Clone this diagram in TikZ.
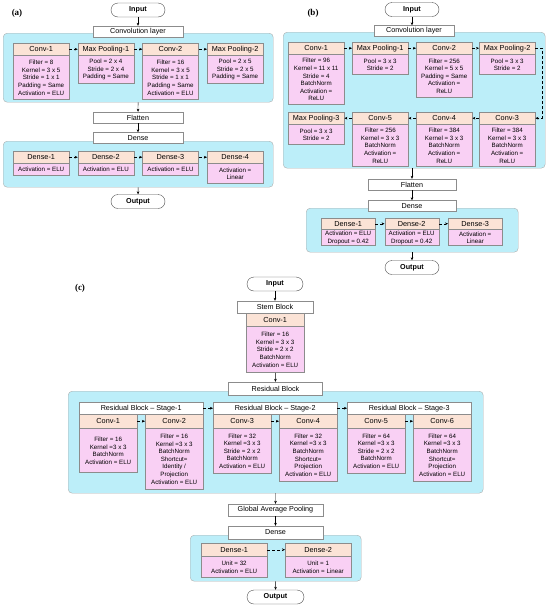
\documentclass[tikz,border=0pt]{standalone}
\usepackage{fontspec}
\setmainfont{Liberation Sans}
\newfontfamily\panelfont{Liberation Serif}
\usetikzlibrary{arrows.meta}
\definecolor{panelblue}{HTML}{BCEEF9}
\definecolor{headpeach}{HTML}{FBE3D6}
\definecolor{bodypink}{HTML}{F9D0F4}
\definecolor{edgegray}{HTML}{8C8C8C}

\begin{document}
\begin{tikzpicture}[x=1pt, y=-1pt,
  pillbox/.style={draw=black!70, fill=white, rounded corners=7pt, minimum width=54pt, minimum height=14pt, inner sep=0pt, font=\fontsize{7.2}{8}\selectfont\bfseries},
  layerbox/.style={draw=edgegray, fill=white, minimum height=11pt, inner sep=0pt, font=\fontsize{7.2}{8}\selectfont},
  stagebox/.style={layerbox, anchor=north west, minimum width=124pt, minimum height=12pt},
  panelbox/.style={draw=edgegray!70, fill=panelblue, rounded corners=4pt, anchor=north west, inner sep=0pt},
  headbox/.style={draw=edgegray, fill=headpeach, anchor=north west, minimum width=56pt, minimum height=12pt, inner sep=0pt, font=\fontsize{7.3}{8}\selectfont},
  bodybox/.style={draw=edgegray, fill=bodypink, anchor=north, minimum width=56pt, align=center, inner sep=1pt, font=\fontsize{6.2}{7.6}\selectfont},
  tag/.style={font=\panelfont\bfseries\fontsize{9}{10}\selectfont},
  arr/.style={-{Stealth[length=3pt,width=2.6pt]}, black, line width=0.4pt},
  darr/.style={arr, densely dashed}
]
\useasboundingbox (0,0) rectangle (550,606);

% (a)
\node[tag] (lba) at (17,13) {(a)};
\node[pillbox] (ain) at (138,10) {Input};
\node[panelbox, minimum width=270pt, minimum height=69pt] (apa) at (3,33) {};
\node[layerbox, minimum width=90pt] (acl) at (138,31.5) {Convolution layer};
\draw[arr] (ain) -- (acl);
\node[headbox] (ac1) at (13,43) {Conv-1};
\node[headbox] (am1) at (77.7,43) {Max Pooling-1};
\node[headbox] (ac2) at (142.3,43) {Conv-2};
\node[headbox] (am2) at (207,43) {Max Pooling-2};
\node[bodybox, minimum height=44pt] (ac1b) at (ac1.south) {Filter = 8\\Kernel = 3 x 5\\Stride = 1 x 1\\Padding = Same\\Activation = ELU};
\node[bodybox, minimum height=28pt] (am1b) at (am1.south) {Pool = 2 x 4\\Stride = 2 x 4\\Padding = Same};
\node[bodybox, minimum height=44pt] (ac2b) at (ac2.south) {Filter = 16\\Kernel = 3 x 5\\Stride = 1 x 1\\Padding = Same\\Activation = ELU};
\node[bodybox, minimum height=28pt] (am2b) at (am2.south) {Pool = 2 x 5\\Stride = 2 x 5\\Padding = Same};
\foreach \s/\t in {ac1/am1,am1/ac2,ac2/am2} {\draw[darr] (\s) -- (\t);}
\node[layerbox, minimum width=90pt] (afl) at (138,117.5) {Flatten};
\draw[arr] (apa) -- (afl);
\node[panelbox, minimum width=270pt, minimum height=46pt] (apb) at (3,141) {};
\node[layerbox, minimum width=90pt] (ade) at (138,138) {Dense};
\draw[arr] (afl) -- (ade);
\node[headbox] (ad1) at (13,151) {Dense-1};
\node[headbox] (ad2) at (77.7,151) {Dense-2};
\node[headbox] (ad3) at (142.3,151) {Dense-3};
\node[headbox] (ad4) at (207,151) {Dense-4};
\foreach \a in {ad1,ad2,ad3} {\node[bodybox, minimum height=12pt] (\a b) at (\a.south) {Activation = ELU};}
\node[bodybox, minimum height=20pt] (ad4b) at (ad4.south) {Activation =\\Linear};
\foreach \s/\t in {ad1/ad2,ad2/ad3,ad3/ad4} {\draw[darr] (\s) -- (\t);}
\node[pillbox] (aout) at (138,201.5) {Output};
\draw[arr] (apb) -- (aout);

% (b)
\node[tag] (lbb) at (313,13) {(b)};
\node[pillbox] (bin) at (412,9.5) {Input};
\node[panelbox, minimum width=262pt, minimum height=136pt] (bpa) at (283,32) {};
\node[layerbox, minimum width=80pt] (bcl) at (414,31) {Convolution layer};
\draw[arr] (bin) -- (bin |- bcl.north);
\node[headbox] (bc1) at (288,42) {Conv-1};
\node[headbox] (bm1) at (352,42) {Max Pooling-1};
\node[headbox] (bc2) at (416,42) {Conv-2};
\node[headbox] (bm2) at (479,42) {Max Pooling-2};
\node[bodybox, minimum height=50pt] (bc1b) at (bc1.south) {Filter = 96\\Kernel = 11 x 11\\Stride = 4\\BatchNorm\\Activation =\\ReLU};
\node[bodybox, minimum height=20pt] (bm1b) at (bm1.south) {Pool = 3 x 3\\Stride = 2};
\node[bodybox, minimum height=43pt] (bc2b) at (bc2.south) {Filter = 256\\Kernel = 5 x 5\\Padding = Same\\Activation =\\ReLU};
\node[bodybox, minimum height=20pt] (bm2b) at (bm2.south) {Pool = 3 x 3\\Stride = 2};
\node[headbox] (bm3) at (288,112) {Max Pooling-3};
\node[headbox] (bc5) at (352,112) {Conv-5};
\node[headbox] (bc4) at (416,112) {Conv-4};
\node[headbox] (bc3) at (479,112) {Conv-3};
\node[bodybox, minimum height=20pt] (bm3b) at (bm3.south) {Pool = 3 x 3\\Stride = 2};
\node[bodybox, minimum height=42pt] (bc5b) at (bc5.south) {Filter = 256\\Kernel = 3 x 3\\BatchNorm\\Activation =\\ReLU};
\node[bodybox, minimum height=42pt] (bc4b) at (bc4.south) {Filter = 384\\Kernel = 3 x 3\\BatchNorm\\Activation =\\ReLU};
\node[bodybox, minimum height=42pt] (bc3b) at (bc3.south) {Filter = 384\\Kernel = 3 x 3\\BatchNorm\\Activation =\\ReLU};
\foreach \s/\t in {bc1/bm1,bm1/bc2,bc2/bm2,bc3/bc4,bc4/bc5,bc5/bm3} {\draw[darr] (\s) -- (\t);}
\draw[darr] (bm2.east) -- ++(7,0) |- (bc3.east);
\node[layerbox, minimum width=88pt] (bfl) at (412,184.5) {Flatten};
\draw[arr] (bfl |- bpa.south) -- (bfl);
\node[panelbox, minimum width=212pt, minimum height=44pt] (bpb) at (306,208) {};
\node[layerbox, minimum width=88pt] (bde) at (412,206) {Dense};
\draw[arr] (bfl) -- (bde);
\node[headbox, minimum width=54pt, minimum height=11pt] (bd1) at (321,218) {Dense-1};
\node[headbox, minimum width=54pt, minimum height=11pt] (bd2) at (384.5,218) {Dense-2};
\node[headbox, minimum width=54pt, minimum height=11pt] (bd3) at (448,218) {Dense-3};
\node[bodybox, minimum width=54pt, minimum height=16pt] (bd1b) at (bd1.south) {Activation = ELU\\Dropout = 0.42};
\node[bodybox, minimum width=54pt, minimum height=16pt] (bd2b) at (bd2.south) {Activation = ELU\\Dropout = 0.42};
\node[bodybox, minimum width=54pt, minimum height=16pt] (bd3b) at (bd3.south) {Activation =\\Linear};
\foreach \s/\t in {bd1/bd2,bd2/bd3} {\draw[darr] (\s) -- (\t);}
\node[pillbox] (bout) at (412,267.5) {Output};
\draw[arr] (bpb.south -| bout) -- (bout);

% (c)
\node[tag] (lbc) at (80,288) {(c)};
\node[pillbox, minimum width=56pt] (cin) at (275,284) {Input};
\node[layerbox, minimum width=76pt, minimum height=12pt] (csb) at (275,307) {Stem Block};
\draw[arr] (cin) -- (csb);
\node[headbox, minimum width=58pt, minimum height=13pt] (cs1) at (246,313) {Conv-1};
\node[bodybox, minimum width=58pt, minimum height=46pt] (cs1b) at (cs1.south) {Filter = 16\\Kernel = 3 x 3\\Stride = 2 x 2\\BatchNorm\\Activation = ELU};
\node[panelbox, minimum width=415pt, minimum height=102pt] (cpa) at (68,391) {};
\node[layerbox, minimum width=94pt, minimum height=13pt] (crb) at (275.5,388.5) {Residual Block};
\draw[arr] (cs1b) -- (crb);
\node[stagebox] (cst1) at (79,402) {Residual Block -- Stage-1};
\node[stagebox] (cst2) at (213,402) {Residual Block -- Stage-2};
\node[stagebox] (cst3) at (347,402) {Residual Block -- Stage-3};
\node[headbox, minimum width=58pt, minimum height=14pt] (cc1) at (79,414) {Conv-1};
\node[headbox, minimum width=58pt, minimum height=14pt] (cc2) at (145,414) {Conv-2};
\node[headbox, minimum width=58pt, minimum height=14pt] (cc3) at (213,414) {Conv-3};
\node[headbox, minimum width=58pt, minimum height=14pt] (cc4) at (279,414) {Conv-4};
\node[headbox, minimum width=58pt, minimum height=14pt] (cc5) at (347,414) {Conv-5};
\node[headbox, minimum width=58pt, minimum height=14pt] (cc6) at (413,414) {Conv-6};
\node[bodybox, minimum width=58pt, minimum height=44pt] (cc1b) at (cc1.south) {Filter = 16\\Kernel =3 x 3\\BatchNorm\\Activation = ELU};
\node[bodybox, minimum width=58pt, minimum height=61pt] (cc2b) at (cc2.south) {Filter = 16\\Kernel =3 x 3\\BatchNorm\\Shortcut=\\Identity /\\Projection\\Activation = ELU};
\node[bodybox, minimum width=58pt, minimum height=45pt] (cc3b) at (cc3.south) {Filter = 32\\Kernel =3 x 3\\Stride = 2 x 2\\BatchNorm\\Activation = ELU};
\node[bodybox, minimum width=58pt, minimum height=53pt] (cc4b) at (cc4.south) {Filter = 32\\Kernel =3 x 3\\BatchNorm\\Shortcut=\\Projection\\Activation = ELU};
\node[bodybox, minimum width=58pt, minimum height=45pt] (cc5b) at (cc5.south) {Filter = 64\\Kernel =3 x 3\\Stride = 2 x 2\\BatchNorm\\Activation = ELU};
\node[bodybox, minimum width=58pt, minimum height=53pt] (cc6b) at (cc6.south) {Filter = 64\\Kernel =3 x 3\\BatchNorm\\Shortcut=\\Projection\\Activation = ELU};
\foreach \s/\t in {cst1/cst2,cst2/cst3,cc1/cc2,cc3/cc4,cc5/cc6} {\draw[darr] (\s) -- (\t);}
\node[layerbox, minimum width=95pt, minimum height=12pt] (cgp) at (275.5,510) {Global Average Pooling};
\draw[arr] (cpa) -- (cgp);
\node[panelbox, minimum width=171pt, minimum height=46pt] (cpb) at (190,535) {};
\node[layerbox, minimum width=95pt, minimum height=13pt] (cde) at (275.5,532.5) {Dense};
\draw[arr] (cgp) -- (cde);
\node[headbox, minimum width=66pt, minimum height=13pt] (cd1) at (201,543) {Dense-1};
\node[headbox, minimum width=66pt, minimum height=13pt] (cd2) at (285,543) {Dense-2};
\node[bodybox, minimum width=66pt, minimum height=21pt] (cd1b) at (cd1.south) {Unit = 32\\Activation = ELU};
\node[bodybox, minimum width=66pt, minimum height=21pt] (cd2b) at (cd2.south) {Unit = 1\\Activation = Linear};
\draw[darr] (cd1) -- (cd2);
\node[pillbox, minimum width=57pt] (cout) at (275.5,597) {Output};
\draw[arr] (cpb) -- (cout);

\end{tikzpicture}
\end{document}
